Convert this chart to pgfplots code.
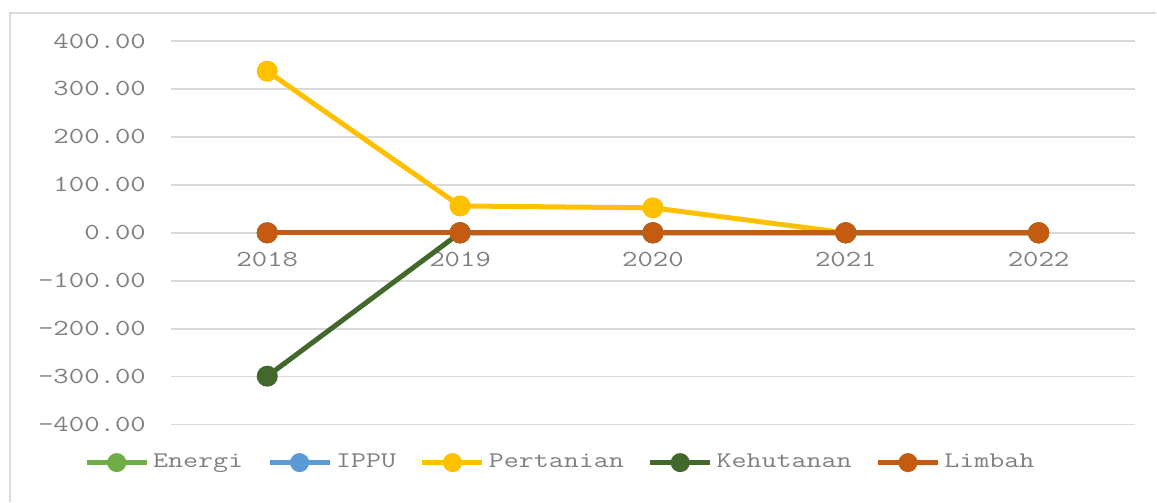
\documentclass[border=0pt]{standalone}
\usepackage{fontspec}
\setmainfont{Liberation Mono}
\setmonofont{Latin Modern Mono}[FakeStretch=1.3]
\usepackage{pgfplots}
\pgfplotsset{compat=1.18}
\definecolor{cEnergi}{HTML}{70AD47}
\definecolor{cIPPU}{HTML}{5B9BD5}
\definecolor{cPert}{HTML}{FFC000}
\definecolor{cKeh}{HTML}{43682B}
\definecolor{cLimbah}{HTML}{C55A11}
\definecolor{gridc}{HTML}{D9D9D9}
\definecolor{txt}{HTML}{7F7F7F}
\begin{document}
\begin{tikzpicture}
\path (0,0) rectangle (578.5pt,251pt);
\draw[gridc, line width=1pt] (5pt,0) -- (5pt,244.5pt) -- (578.5pt,244.5pt);
\begin{axis}[
  at={(85.5pt,38.5pt)}, anchor=south west,
  scale only axis, width=482.5pt, height=192pt,
  xmin=-0.5, xmax=4.5, ymin=-400, ymax=400,
  axis x line=middle, axis y line=left,
  x axis line style={draw=none}, y axis line style={draw=none},
  hide obscured x ticks=false, hide obscured y ticks=false,
  xtick={0,1,2,3,4}, xticklabels={2018,2019,2020,2021,2022},
  ytick={-400,-300,-200,-100,0,100,200,300,400},
  yticklabels={-400.00,-300.00,-200.00,-100.00,0.00,100.00,200.00,300.00,400.00},
  major tick length=0pt,
  ymajorgrids, grid style={gridc, line width=0.8pt},
  tick label style={font=\ttfamily\fontsize{11.5}{14}\selectfont, text=txt},
  xticklabel style={yshift=-6pt},
  yticklabel style={xshift=-9pt},
  /pgf/number format/assume math mode=true,
  every axis plot/.append style={line width=2.5pt, mark=*, mark size=4pt},
  legend style={at={(0.405,-0.099)}, anchor=center, draw=none, fill=none,
    font=\ttfamily\fontsize{11.2}{14}\selectfont, text=txt,
    /tikz/every odd column/.append style={inner xsep=1pt},
    /tikz/every even column/.append style={column sep=10pt}},
  legend columns=5,
  legend image code/.code={\draw[mark repeat=2,mark phase=2,mark size=3.5pt,#1] plot coordinates {(0pt,0pt) (15pt,0pt) (30pt,0pt)};},
  clip=false,
]
\addplot[cEnergi] coordinates {(0,0) (1,0) (2,0) (3,0) (4,0)};
\addlegendentry{Energi}
\addplot[cIPPU] coordinates {(0,0) (1,0) (2,0) (3,0) (4,0)};
\addlegendentry{IPPU}
\addplot[cPert] coordinates {(0,337) (1,56) (2,52) (3,0) (4,0)};
\addlegendentry{Pertanian}
\addplot[cKeh] coordinates {(0,-299) (1,0) (2,0) (3,0) (4,0)};
\addlegendentry{Kehutanan}
\addplot[cLimbah] coordinates {(0,0) (1,0) (2,0) (3,0) (4,0)};
\addlegendentry{Limbah}
\end{axis}
\end{tikzpicture}
\end{document}
